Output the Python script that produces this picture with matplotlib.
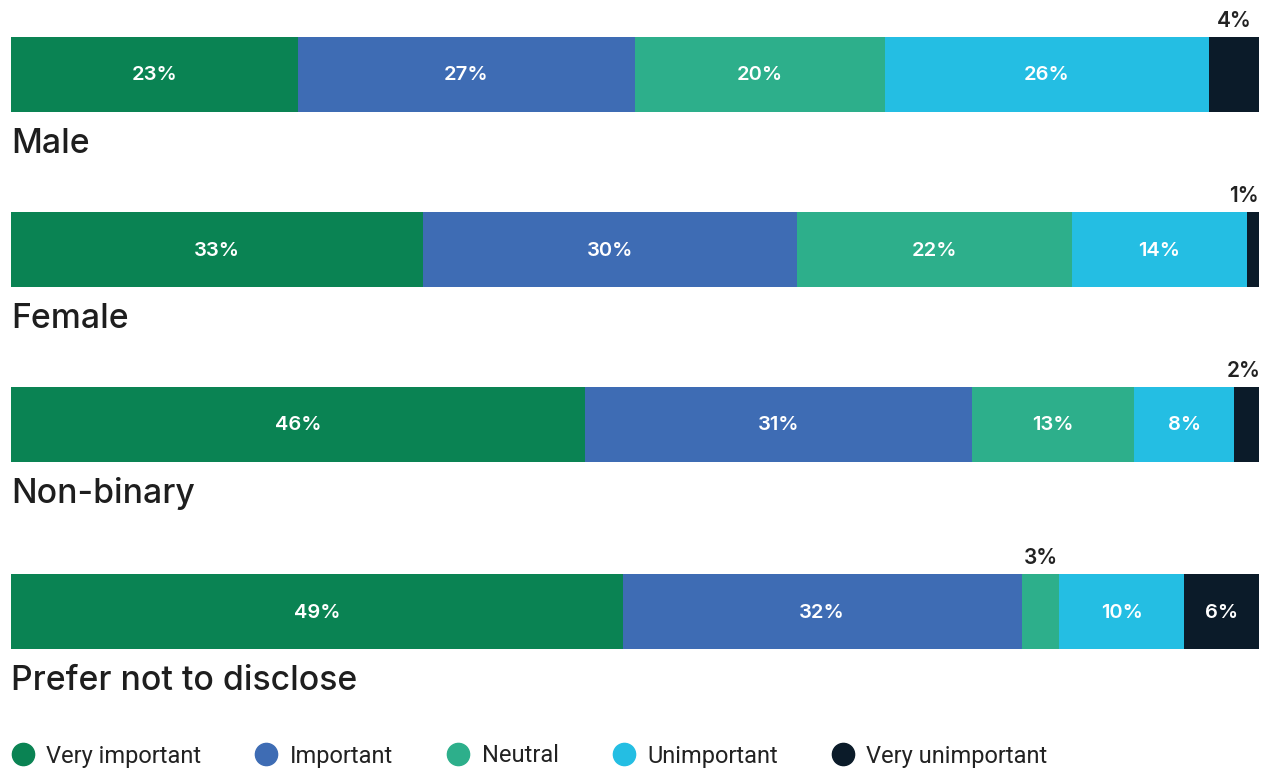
import matplotlib
matplotlib.use("Agg")
import matplotlib.pyplot as plt
from matplotlib.lines import Line2D

# survey shares per gender group, in percent
groups = ["Male", "Female", "Non-binary", "Prefer not to disclose"]
levels = ["Very important", "Important", "Neutral", "Unimportant", "Very unimportant"]
very_important = [23, 33, 46, 49]
important = [27, 30, 31, 32]
neutral = [20, 22, 13, 3]
unimportant = [26, 14, 8, 10]
very_unimportant = [4, 1, 2, 6]

colors = ["#0a8353", "#3e6cb4", "#2daf8b", "#24bee3", "#0b1b29"]

W, H = 1262, 769
fig = plt.figure(figsize=(W / 100, H / 100), dpi=100)
ax = fig.add_axes([11 / W, 0, 1248 / W, 1])
ax.set_xlim(0, 100)
ax.set_ylim(H, 0)
ax.axis("off")

row_y = [74.5, 249.5, 424.5, 611.5]
bar_h = 75

series = [very_important, important, neutral, unimportant, very_unimportant]
for i, g in enumerate(groups):
    left = 0
    for k, vals in enumerate(series):
        v = vals[i]
        ax.barh(row_y[i], v, left=left, height=bar_h, color=colors[k], linewidth=0)
        cx = left + v / 2
        if v >= 6:
            ax.text(cx, row_y[i] + 1, f"{v}%", ha="center", va="center",
                    color="white", fontsize=14.5, fontweight="semibold", family="Inter")
        else:
            # narrow segments get their label above the bar
            ax.text(min(cx, 98.8), row_y[i] - bar_h / 2 - 10, f"{v}%", ha="center",
                    va="baseline", color="#222222", fontsize=15,
                    fontweight="semibold", family="Inter")
        left += v
    ax.text(0, row_y[i] + bar_h / 2 + 41, g, ha="left", va="baseline",
            color="#1e1e1e", fontsize=24.3, fontweight="medium", family="Inter")

handles = [Line2D([], [], marker="o", linestyle="none", markersize=16,
                  markerfacecolor=c, markeredgecolor=c) for c in colors]
fig.legend(handles, levels, loc="center left", bbox_to_anchor=(12 / W, 1 - 756 / H),
           ncol=5, frameon=False, handlelength=0.9, handletextpad=0.55,
           columnspacing=2.3, borderaxespad=0.0, borderpad=0.0,
           prop={"family": "Roboto", "size": 17}, labelcolor="#222222")

fig.savefig("out.png", dpi=100)
